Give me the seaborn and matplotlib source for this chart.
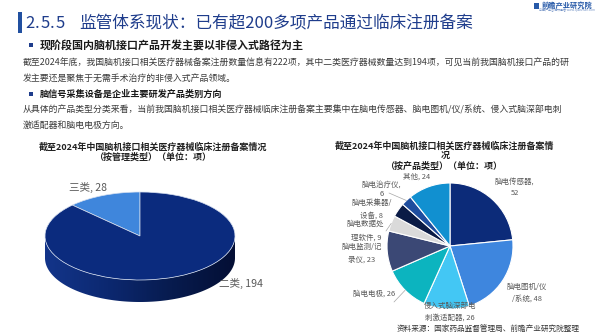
import numpy as np
import matplotlib
matplotlib.use("Agg")
import matplotlib.pyplot as plt
import seaborn as sns
from matplotlib.patches import Polygon, Rectangle
from matplotlib.lines import Line2D
from matplotlib.colors import LinearSegmentedColormap

# ---------------- data ----------------
mgmt_categories = ["三类", "二类"]
mgmt_values = [28, 194]

product_categories = ["脑电传感器", "脑电图机/仪/系统", "侵入式脑深部电刺激适配器", "脑电电极",
                      "脑电监测/记录仪", "脑电数据处理软件", "脑电采集器/设备", "脑电治疗仪", "其他"]
product_values = [52, 48, 26, 26, 23, 9, 8, 6, 24]

title_text = "监管体系现状：已有超200多项产品通过临床注册备案"
section_no = "2.5.5"
bullet1 = "现阶段国内脑机接口产品开发主要以非侵入式路径为主"
para1 = ["截至2024年底，我国脑机接口相关医疗器械备案注册数量信息有222项，其中二类医疗器械数量达到194项，可见当前我国脑机接口产品的研",
         "发主要还是聚焦于无需手术治疗的非侵入式产品领域。"]
bullet2 = "脑信号采集设备是企业主要研发产品类别方向"
para2 = ["从具体的产品类型分类来看，当前我国脑机接口相关医疗器械临床注册备案主要集中在脑电传感器、脑电图机/仪/系统、侵入式脑深部电刺",
         "激适配器和脑电电极方向。"]
left_title = ["截至2024年中国脑机接口相关医疗器械临床注册备案情况", "（按管理类型）（单位：项）"]
right_title = ["截至2024年中国脑机接口相关医疗器械临床注册备案情", "况", "（按产品类型）（单位：项）"]
source_text = "资料来源：国家药品监督管理局、前瞻产业研究院整理"

# ---------------- style ----------------
sns.set_theme(style="white")
plt.rcParams["font.family"] = ["Noto Sans CJK SC", "DejaVu Sans"]

W, H = 600, 335
fig = plt.figure(figsize=(6, 3.35), dpi=100)
fig.patch.set_facecolor("white")


def fx(x):
    return x / W


def fy(y):
    return 1 - y / H


def axes_px(l, t, r, b):
    return fig.add_axes([l / W, 1 - b / H, (r - l) / W, (b - t) / H])


def ftext(x, y, s, **kw):
    kw.setdefault("va", "center")
    fig.text(fx(x), fy(y), s, **kw)


BLUE = "#1f3d8c"
TXT = "#3a3a3a"

# ---------------- header ----------------
fig.add_artist(Rectangle((fx(18), fy(33)), 3.5 / W, 21 / H, transform=fig.transFigure,
                         facecolor="#2150a0", edgecolor="none"))
# section number drawn with the wide letter spacing of the original
sec_x = [30, 37, 45, 52, 60]
for ch, x in zip(section_no, sec_x):
    ftext(x, 23.5, ch, fontsize=12, color=BLUE, ha="center")
ftext(79, 23.5, title_text, fontsize=12, color=BLUE, ha="left")

# logo
ftext(567, 5.5, "前瞻产业研究院", fontsize=5.2, color="#2659a8", ha="center", fontweight="bold")
ftext(567, 10, "中国产业咨询领导者 www.qianzhan.com", fontsize=2.2, color="#6f8fc4", ha="center")
fig.add_artist(Rectangle((fx(534), fy(9)), 5 / W, 6 / H, transform=fig.transFigure,
                         facecolor="#2659a8", edgecolor="none"))

# bullets and paragraphs
fig.add_artist(Rectangle((fx(28.5), fy(47)), 4.5 / W, 4.5 / H, transform=fig.transFigure,
                         facecolor=BLUE, edgecolor="none"))
ftext(40, 45, bullet1, fontsize=7.9, color="#1a1a1a", ha="left", fontweight="bold")
ftext(23, 63, para1[0], fontsize=6.4, color=TXT, ha="left")
ftext(23, 79, para1[1], fontsize=6.4, color=TXT, ha="left")
fig.add_artist(Rectangle((fx(28.5), fy(96)), 4.5 / W, 4.5 / H, transform=fig.transFigure,
                         facecolor=BLUE, edgecolor="none"))
ftext(40, 94, bullet2, fontsize=6.6, color="#1a1a1a", ha="left", fontweight="bold")
ftext(23, 109.5, para2[0], fontsize=6.4, color=TXT, ha="left")
ftext(23, 125.5, para2[1], fontsize=6.4, color=TXT, ha="left")

# chart titles
ftext(153, 147, left_title[0], fontsize=6.5, color="#222222", ha="center", fontweight="bold")
ftext(153, 157.5, left_title[1], fontsize=6.5, color="#222222", ha="center", fontweight="bold")
ftext(445, 146, right_title[0], fontsize=6.5, color="#222222", ha="center", fontweight="bold")
ftext(445, 155.5, right_title[1], fontsize=6.5, color="#222222", ha="center", fontweight="bold")
ftext(444, 166.5, right_title[2], fontsize=6.5, color="#222222", ha="center", fontweight="bold")

ftext(580, 330, source_text, fontsize=5.5, color="#333333", ha="right")

# ---------------- left 3D pie ----------------
mgmt_colors = sns.color_palette(["#3f86dc", "#0b2b7e"])
ax1 = axes_px(43, 190, 237, 306)
d = 0.5  # side thickness in unit radii (vertical)
t = np.linspace(np.pi, 2 * np.pi, 200)
side_pts = np.vstack([np.column_stack([np.cos(t), np.sin(t)]),
                      np.column_stack([np.cos(t[::-1]), np.sin(t[::-1]) - d])])
side = Polygon(side_pts, closed=True, facecolor="none", edgecolor="none")
ax1.add_patch(side)
side_cmap = LinearSegmentedColormap.from_list("side", ["#13358a", "#0c2870", "#071b4e", "#040f35"])
im = ax1.imshow(np.linspace(0, 1, 256)[None, :], extent=(-1, 1, -1 - d, 0), cmap=side_cmap,
                aspect="auto", zorder=1)
im.set_clip_path(side)
wedges1, _ = ax1.pie(mgmt_values, colors=mgmt_colors, startangle=90, counterclock=True, radius=1,
                     wedgeprops=dict(edgecolor="#d7e0f0", linewidth=0.5))
for w in wedges1:
    w.set_zorder(3)
ax1.set_aspect("auto")
ax1.set_xlim(-97 / 95, 97 / 95)
ax1.set_ylim(-70 / 44, 46 / 44)
ax1.axis("off")

left_label_pos = [(88, 187), (241, 283)]
for cat, val, (x, y) in zip(mgmt_categories, mgmt_values, left_label_pos):
    ftext(x, y, f"{cat}, {val}", fontsize=7.6, color="#595959", ha="center")

# ---------------- right pie ----------------
product_colors = sns.color_palette(["#0c2b79", "#3e86de", "#43c7f4", "#0cb4bf", "#3b4875",
                                    "#dadada", "#0a1b46", "#1e4d9e", "#1190d0"])
ax2 = axes_px(387, 183, 513, 309)
wedges2, _ = ax2.pie(product_values, colors=product_colors, startangle=90, counterclock=False,
                     radius=1, wedgeprops=dict(edgecolor="white", linewidth=0.8))
ax2.set_aspect("auto")
ax2.set_xlim(-1, 1)
ax2.set_ylim(-1, 1)
ax2.axis("off")

# label layout: split index, center x, first-line y (px)
label_split = [6, 6, 7, None, 6, 5, 6, 6, None]
label_xy = [(515, 182), (527, 287), (450, 306), (374, 294), (362, 247),
            (366, 224), (372, 203), (382, 184.5), (417, 177)]
label_gap = [11, 12, 12, 0, 13, 14, 13, 9.5, 0]
leader_start = {3: (394, 302), 5: (386, 231), 7: (389, 193)}

for i, (cat, val) in enumerate(zip(product_categories, product_values)):
    s = f"{cat}, {val}"
    k = label_split[i]
    lines = [s] if k is None else [s[:k], s[k:].strip()]
    x, y = label_xy[i]
    for j, ln in enumerate(lines):
        ftext(x, y + j * label_gap[i], ln, fontsize=5.4, color="#595959", ha="center")

fig.canvas.draw()
inv = fig.transFigure.inverted()
for i, (sx, sy) in leader_start.items():
    w = wedges2[i]
    mid = np.deg2rad((w.theta1 + w.theta2) / 2)
    ex, ey = inv.transform(ax2.transData.transform((np.cos(mid), np.sin(mid))))
    fig.add_artist(Line2D([fx(sx), ex], [fy(sy), ey], transform=fig.transFigure,
                          color="#a6a6a6", linewidth=0.5))

fig.savefig("out.png", dpi=100)
